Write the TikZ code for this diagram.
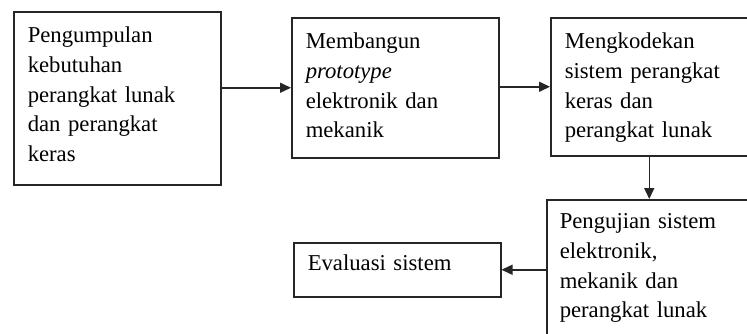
\documentclass[tikz,border=0pt]{standalone}
\usepackage{fontspec}
\setmainfont{Liberation Serif}
\usetikzlibrary{arrows.meta}

\tikzset{
  box/.style={draw=black!85,line width=1.5pt,anchor=north west,align=left,
    inner ysep=0pt,inner xsep=14pt,text width=179pt,
    font=\fontsize{22.7}{29.7}\selectfont},
  flow/.style={draw=black!85,line width=1.5pt,-{Triangle[length=11pt,width=10pt]}}
}

\begin{document}
\begin{tikzpicture}[x=1pt,y=-1pt]
\useasboundingbox (0,0) rectangle (747,333);
\clip (0,0) rectangle (747,333);
\node[box,text height=31pt,text depth=142pt] (kebutuhan) at (13,11)
  {Pengumpulan\\kebutuhan\\perangkat lunak\\dan perangkat\\keras};
\node[box,text height=31pt,text depth=109pt] (prototype) at (291,17)
  {Membangun\\\textit{prototype}\\elektronik dan\\mekanik};
\node[box,text height=31pt,text depth=107pt] (kode) at (550,17)
  {Mengkodekan\\sistem perangkat\\keras dan\\perangkat lunak};
\node[box,inner xsep=13pt,text height=29pt,text depth=115pt] (uji) at (546,199)
  {Pengujian sistem\\elektronik,\\mekanik dan\\perangkat lunak};
\node[box,text height=28pt,text depth=26pt] (evaluasi) at (293,242)
  {Evaluasi sistem};
\draw[flow] (kebutuhan.east |- prototype.west) -- (prototype.west);
\draw[flow] (prototype.east |- kode.west) -- (kode.west);
\draw[flow] (uji.north |- kode.south) -- (uji.north);
\draw[flow] (uji.west |- evaluasi.east) -- (evaluasi.east);
\end{tikzpicture}
\end{document}
